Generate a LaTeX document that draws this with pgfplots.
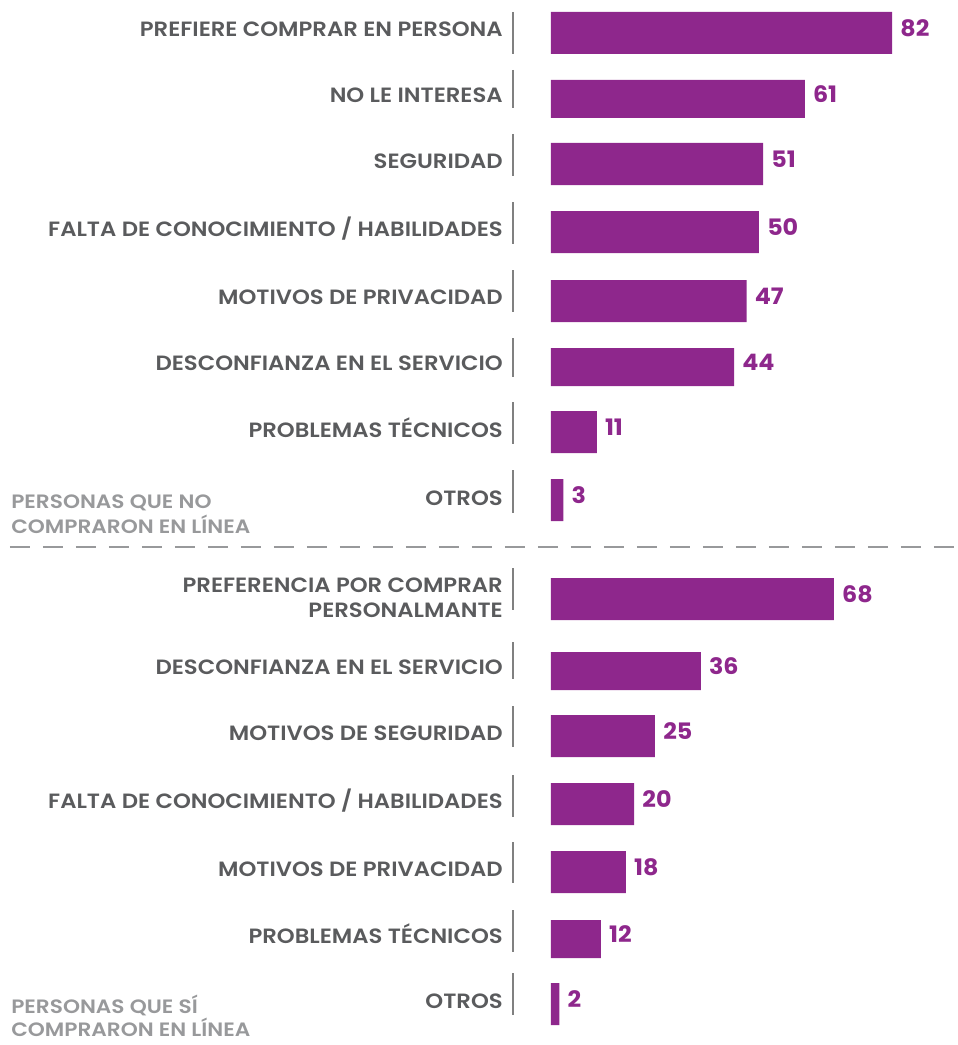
\documentclass[border=0pt]{standalone}
\usepackage{pgfplots}
\pgfplotsset{compat=1.18}
\usepackage{fontspec}
\setmainfont{Poppins}
\newfontfamily\labfont[FakeStretch=1.1]{Poppins SemiBold}
\newfontfamily\grpfont[FakeStretch=1.12]{Poppins SemiBold}
\newfontfamily\valfont[FakeStretch=1.05]{Poppins Bold}
\definecolor{barpurple}{RGB}{142,39,140}
\definecolor{labgray}{RGB}{90,91,93}
\definecolor{grpgray}{RGB}{152,153,155}
\definecolor{sepgray}{RGB}{128,128,128}
\begin{document}
\begin{tikzpicture}
\begin{axis}[
  scale only axis,
  width=717pt, height=783.75pt,
  xmin=-132.45, xmax=97.36,
  ymin=0, ymax=1045,
  y dir=reverse,
  axis lines=none,
  clip=false,
  xbar, bar shift=0pt,
  /pgf/number format/assume math mode=true,
  nodes near coords,
  every node near coord/.style={anchor=west, inner sep=0pt, xshift=6pt, yshift=3.5pt,
     font=\valfont\fontsize{17}{20}\selectfont, text=barpurple},
]
% thick bars (value, pixel row)
\addplot[fill=barpurple, draw=none, bar width=31.5pt] coordinates {
 (82,33) (51,164) (50,232) (47,301) (11,432) (3,500)
 (68,599) (25,736) (20,804) (18,872) (2,1004)
};
% thinner bars
\addplot[fill=barpurple, draw=none, bar width=28.5pt] coordinates {
 (61,99) (44,367) (36,671) (12,939)
};
\path (rel axis cs:0,0) (rel axis cs:1,1);
% category labels
\begin{scope}[every node/.style={anchor=base east, inner sep=0pt, text=labgray,
    font=\labfont\fontsize{15.5}{18}\selectfont}]
\node at (axis cs:-11.54,37) {PREFIERE COMPRAR EN PERSONA};
\node at (axis cs:-11.54,103) {NO LE INTERESA};
\node at (axis cs:-11.54,168) {SEGURIDAD};
\node at (axis cs:-11.54,236) {FALTA DE CONOCIMIENTO / HABILIDADES};
\node at (axis cs:-11.54,304) {MOTIVOS DE PRIVACIDAD};
\node at (axis cs:-11.54,370) {DESCONFIANZA EN EL SERVICIO};
\node at (axis cs:-11.54,437) {PROBLEMAS TÉCNICOS};
\node at (axis cs:-11.54,505) {OTROS};
\node at (axis cs:-11.54,592) {PREFERENCIA POR COMPRAR};
\node at (axis cs:-11.54,617) {PERSONALMANTE};
\node at (axis cs:-11.54,674) {DESCONFIANZA EN EL SERVICIO};
\node at (axis cs:-11.54,740) {MOTIVOS DE SEGURIDAD};
\node at (axis cs:-11.54,808) {FALTA DE CONOCIMIENTO / HABILIDADES};
\node at (axis cs:-11.54,876) {MOTIVOS DE PRIVACIDAD};
\node at (axis cs:-11.54,943) {PROBLEMAS TÉCNICOS};
\node at (axis cs:-11.54,1008) {OTROS};
\end{scope}
% group labels
\begin{scope}[every node/.style={anchor=base west, inner sep=0pt, text=grpgray,
    font=\grpfont\fontsize{14.5}{17}\selectfont}]
\node at (axis cs:-129.8,508) {PERSONAS QUE NO};
\node at (axis cs:-129.8,533) {COMPRARON EN LÍNEA};
\node at (axis cs:-129.8,1013) {PERSONAS QUE SÍ};
\node at (axis cs:-129.8,1036) {COMPRARON EN LÍNEA};
\end{scope}
% separators
\draw[grpgray, line width=1.5pt, dash pattern=on 15pt off 9.75pt] (axis cs:-130.05,547) -- (axis cs:97.36,547);
\begin{scope}[sepgray, line width=1.2pt]
\draw (axis cs:-9.13,12) -- (axis cs:-9.13,54);
\draw (axis cs:-9.13,70) -- (axis cs:-9.13,108);
\draw (axis cs:-9.13,134) -- (axis cs:-9.13,176);
\draw (axis cs:-9.13,202) -- (axis cs:-9.13,244);
\draw (axis cs:-9.13,270) -- (axis cs:-9.13,312);
\draw (axis cs:-9.13,338) -- (axis cs:-9.13,377);
\draw (axis cs:-9.13,402) -- (axis cs:-9.13,444);
\draw (axis cs:-9.13,470) -- (axis cs:-9.13,513);
\draw (axis cs:-9.13,568) -- (axis cs:-9.13,610);
\draw (axis cs:-9.13,642) -- (axis cs:-9.13,679);
\draw (axis cs:-9.13,706) -- (axis cs:-9.13,747);
\draw (axis cs:-9.13,775) -- (axis cs:-9.13,817);
\draw (axis cs:-9.13,842) -- (axis cs:-9.13,883);
\draw (axis cs:-9.13,910) -- (axis cs:-9.13,952);
\draw (axis cs:-9.13,973) -- (axis cs:-9.13,1015);
\end{scope}
\end{axis}
\end{tikzpicture}
\end{document}
